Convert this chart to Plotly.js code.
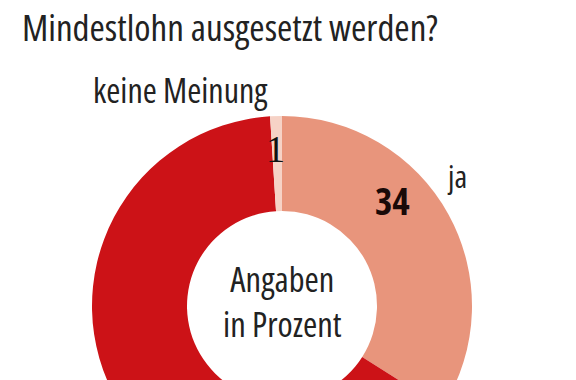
<!DOCTYPE html>
<html><head><meta charset="utf-8">
<script src="https://cdn.plot.ly/plotly-3.0.1.min.js"></script>
<style>html,body{margin:0;padding:0;overflow:hidden;background:#fff;width:576px;height:380px}#c{position:absolute;left:0;top:0;width:576px;height:520px}text,tspan{font-stretch:condensed}</style>
</head><body><div id="c"></div>
<script>
const categories = ["ja", "nein", "keine Meinung"];
const values = [34, 65, 1];
const colors = ["#E8957C", "#CC1217", "#F6D2C6"];
const titleText = "Mindestlohn ausgesetzt werden?";
const centerLines = ["Angaben", "in Prozent"];

const W = 576, H = 520;
const cx = 282, cy = 306, R = 190;
const px = x => x / W, py = y => 1 - y / H;
const font = "Open Sans, Roboto Condensed, sans-serif";

const trace = {
  type: "pie",
  labels: categories,
  values: values,
  sort: false,
  direction: "clockwise",
  rotation: 0,
  hole: 0.5,
  textinfo: "none",
  hoverinfo: "label+value",
  marker: {colors: colors, line: {width: 0}},
  domain: {x: [px(cx - R), px(cx + R)], y: [py(cy + R), py(cy - R)]},
  showlegend: false
};

const ann = [
  {text: titleText, x: px(20), y: py(26), xanchor: "left", yanchor: "middle", font: {size: 37, color: "#222"}},
  {text: categories[2], x: px(180), y: py(90), xanchor: "center", yanchor: "middle", font: {size: 34, color: "#222"}},
  {text: String(values[2]), x: px(275), y: py(149), xanchor: "center", yanchor: "middle", font: {size: 38, color: "#111", family: "Liberation Serif, serif"}},
  {text: categories[0], x: px(457), y: py(176), xanchor: "center", yanchor: "middle", font: {size: 31, color: "#222"}},
  {text: "<b>" + values[0] + "</b>", x: px(392), y: py(201), xanchor: "center", yanchor: "middle", font: {size: 37, color: "#1a0a08"}},
  {text: centerLines.join("<br>"), x: px(cx), y: py(300.5), xanchor: "center", yanchor: "middle", font: {size: 34.5, color: "#222"}}
].map(a => Object.assign({xref: "paper", yref: "paper", showarrow: false}, a));

const layout = {
  width: W, height: H,
  margin: {l: 0, r: 0, t: 0, b: 0},
  paper_bgcolor: "#fff",
  font: {family: font},
  annotations: ann
};
Plotly.newPlot("c", [trace], layout, {staticPlot: true, displayModeBar: false});
</script></body></html>
